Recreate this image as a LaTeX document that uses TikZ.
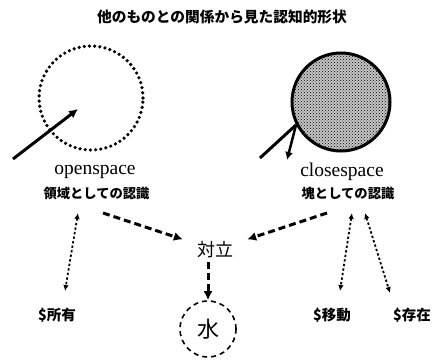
\documentclass[tikz,border=0pt]{standalone}
\usepackage{fontspec}
\setmainfont{Liberation Serif}
\newfontfamily\jp{Noto Sans CJK JP}
\usetikzlibrary{arrows.meta,patterns}
\tikzset{
  thickarrow/.style={line width=3pt,-{Latex[length=9pt,width=9pt]}},
  thickdash/.style={line width=3pt,dash pattern=on 7pt off 4pt,-{Latex[length=9pt,width=9pt]}},
  dotarrow/.style={line width=1.8pt,dash pattern=on 2.4pt off 2.2pt,{Latex[length=6pt,width=5.5pt]}-{Latex[length=6pt,width=5.5pt]}},
  jplabel/.style={font=\jp\bfseries\fontsize{13.3}{15}\selectfont,inner sep=0pt},
  enlabel/.style={font=\fontsize{19.5}{21}\selectfont,inner sep=0pt},
  botlabel/.style={font=\jp\bfseries\fontsize{14.5}{16}\selectfont,inner sep=0pt}
}
\begin{document}
\begin{tikzpicture}[x=1pt,y=-1pt]
\useasboundingbox (0,0) rectangle (433,361);
% title
\node[font=\jp\bfseries\fontsize{14.7}{16}\selectfont,inner sep=0pt] (title) at (222,17) {他のものとの関係から見た認知的形状};
% open space
\node[circle,draw,line width=3.6pt,dash pattern=on 0pt off 5.2pt,line cap=round,minimum size=104pt,inner sep=0pt] (open) at (91,98) {};
\coordinate (otail) at (13,159);
\coordinate (otip) at (78,109);
\draw[thickarrow] (otail) -- (otip);
\node[enlabel] (openl) at (95,172) {openspace};
\node[jplabel] (openj) at (96.5,193) {領域としての認識};
% close space
\node[circle,draw,line width=3pt,preaction={fill=gray!45},pattern=crosshatch dots,minimum size=98pt,inner sep=0pt] (close) at (341,102) {};
\coordinate (ctail) at (260,158);
\coordinate (cback) at (287,160);
\draw[line width=3pt] (ctail) -- (close.207);
\draw[line width=2.5pt,-{Latex[length=8pt,width=8pt]}] (close.207) -- (cback);
\node[enlabel] (closel) at (342,172) {closespace};
\node[jplabel] (closej) at (348,193) {塊としての認識};
% opposition
\node[font=\jp\fontsize{18}{20}\selectfont,inner xsep=14pt,inner ysep=4pt] (opp) at (215,250) {対立};
\coordinate (ltail) at (103,213);
\coordinate (rtail) at (327,213);
\draw[thickdash] (ltail) -- (opp);
\draw[thickdash] (rtail) -- (opp);
% water
\node[circle,draw,line width=1.6pt,dash pattern=on 5pt off 4pt,minimum size=56pt,inner sep=0pt,font=\jp\fontsize{22}{24}\selectfont] (water) at (208,329) {水};
\draw[thickdash] (opp.south -| water) -- (water.north);
% dotted double arrows
\coordinate (a1) at (78,213); \coordinate (b1) at (65,291);
\coordinate (a2) at (352,213); \coordinate (b2) at (340,291);
\coordinate (a3) at (365,213); \coordinate (b3) at (390,293);
\draw[dotarrow] (a1) -- (b1);
\draw[dotarrow] (a2) -- (b2);
\draw[dotarrow] (a3) -- (b3);
\node[botlabel] (own) at (57,315) {\$所有};
\node[botlabel] (move) at (332,315) {\$移動};
\node[botlabel] (exist) at (412,315) {\$存在};
\end{tikzpicture}
\end{document}
